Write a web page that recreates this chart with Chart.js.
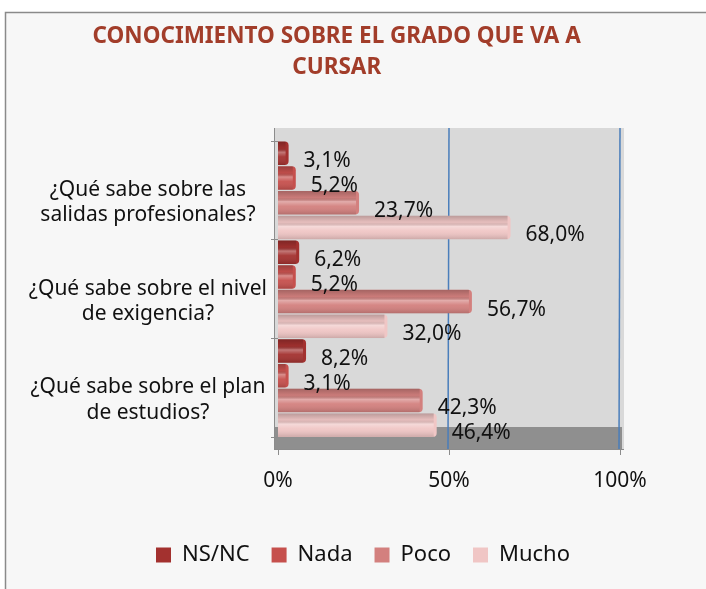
<!DOCTYPE html>
<html lang="es">
<head>
<meta charset="UTF-8">
<title>Conocimiento sobre el grado</title>
<script src="https://cdn.jsdelivr.net/npm/chart.js"></script>
<style>
    body { margin: 0; background: #ffffff; }
    #wrap { width: 706px; height: 589px; position: relative; }
</style>
</head>
<body>
<div id="wrap"><canvas id="chart"></canvas></div>
<script>
    // data
    const categories = [
        ['¿Qué sabe sobre las', 'salidas profesionales?'],
        ['¿Qué sabe sobre el nivel', 'de exigencia?'],
        ['¿Qué sabe sobre el plan', 'de estudios?']
    ];
    const seriesNames = ['NS/NC', 'Nada', 'Poco', 'Mucho'];
    const nsnc  = [3.1, 6.2, 8.2];
    const nada  = [5.2, 5.2, 3.1];
    const poco  = [23.7, 56.7, 42.3];
    const mucho = [68.0, 32.0, 46.4];
    const xTicks = [0, 50, 100];

    const colors = ['#a3312f', '#c6504d', '#d3807e', '#f0c6c5'];
    const FONT = "'Noto Sans', sans-serif";
    // trailing gap nudges the centred title a little left of the legend centre
    const titlePad = '         ';

    const fmt = v => v.toFixed(1).replace('.', ',') + '%';

    // frame, back wall, floor and wall gridlines
    const backdrop = {
        id: 'backdrop',
        beforeDraw(chart) {
            const c = chart.ctx, x = chart.scales.x, a = chart.chartArea;
            c.save();
            c.fillStyle = '#ffffff';
            c.fillRect(0, 0, chart.width, chart.height);
            c.fillStyle = '#f7f7f7';
            c.fillRect(5, 12, chart.width, chart.height);
            c.strokeStyle = '#8a8a8a';
            c.lineWidth = 1.5;
            c.beginPath();
            c.moveTo(5.5, chart.height); c.lineTo(5.5, 12.5); c.lineTo(chart.width, 12.5);
            c.stroke();

            const left = x.getPixelForValue(0) - 4;
            const right = x.getPixelForValue(100) + 4;
            const top = 128, bottom = 449;
            c.fillStyle = '#d9d9d9';
            c.fillRect(left, top, right - left, bottom - top);
            c.fillStyle = '#8f8f8f';
            c.fillRect(left, bottom - 22, right - left - 2, 22);

            c.strokeStyle = '#4a7ebb';
            c.lineWidth = 1.5;
            xTicks.slice(1).forEach(v => {
                const px = x.getPixelForValue(v);
                c.beginPath(); c.moveTo(px, top); c.lineTo(px - 1, bottom); c.stroke();
            });
            c.strokeStyle = '#8c8c8c';
            c.lineWidth = 1;
            c.beginPath(); c.moveTo(left + 0.5, top); c.lineTo(left + 0.5, bottom); c.stroke();
            c.beginPath(); c.moveTo(left, bottom + 0.5); c.lineTo(right, bottom + 0.5); c.stroke();
            xTicks.forEach(v => {
                const px = Math.round(x.getPixelForValue(v)) + 0.5;
                c.beginPath(); c.moveTo(px, bottom); c.lineTo(px, bottom + 6); c.stroke();
            });
            c.restore();
        }
    };

    // cylinder shading and value labels
    const barLabels = {
        id: 'barLabels',
        afterDatasetsDraw(chart) {
            const c = chart.ctx;
            c.save();
            chart.data.datasets.forEach((ds, i) => {
                chart.getDatasetMeta(i).data.forEach((bar, j) => {
                    const p = bar.getProps(['x', 'y', 'base', 'height'], true);
                    const l = Math.min(p.base, p.x), w = Math.abs(p.x - p.base) - 3;
                    const t = p.y - p.height / 2;
                    if (w > 0) {
                        const g = c.createLinearGradient(0, t, 0, t + p.height);
                        g.addColorStop(0, 'rgba(0,0,0,0.22)');
                        g.addColorStop(0.28, 'rgba(0,0,0,0.04)');
                        g.addColorStop(0.45, 'rgba(255,255,255,0.35)');
                        g.addColorStop(0.65, 'rgba(255,255,255,0.05)');
                        g.addColorStop(1, 'rgba(0,0,0,0.15)');
                        c.fillStyle = g;
                        c.fillRect(l, t, w, p.height);
                    }
                    c.fillStyle = '#111111';
                    c.font = '21px ' + FONT;
                    c.textAlign = 'left';
                    c.textBaseline = 'middle';
                    c.fillText(fmt(ds.data[j]), p.x + 15, p.y + 8);
                });
            });
            c.restore();
        }
    };

    const seriesData = [nsnc, nada, poco, mucho];

    new Chart(document.getElementById('chart'), {
        type: 'bar',
        data: {
            labels: categories,
            datasets: seriesNames.map((name, i) => ({
                label: name,
                data: seriesData[i],
                backgroundColor: colors[i],
                borderRadius: 4,
                categoryPercentage: 1,
                barPercentage: 0.95
            }))
        },
        options: {
            indexAxis: 'y',
            responsive: true,
            maintainAspectRatio: false,
            animation: false,
            layout: { padding: { left: 20, right: 0, top: 0, bottom: 13 } },
            scales: {
                x: {
                    min: 0,
                    max: 100,
                    afterBuildTicks(s) { s.ticks = xTicks.map(v => ({ value: v })); },
                    afterFit(s) { s.height = 84.5; },
                    grid: { display: false },
                    border: { display: false },
                    ticks: {
                        padding: 23,
                        color: '#111111',
                        font: { family: FONT, size: 21 },
                        callback: v => v + '%'
                    }
                },
                y: {
                    afterFit(s) { s.width = 258; },
                    grid: { drawOnChartArea: false, tickLength: 7, color: '#8c8c8c' },
                    border: { display: false },
                    ticks: {
                        crossAlign: 'center',
                        padding: 4,
                        labelOffset: 12,
                        color: '#111111',
                        font: { family: FONT, size: 21 }
                    }
                },
                y2: {
                    type: 'category',
                    position: 'right',
                    afterFit(s) { s.width = 86; },
                    grid: { display: false },
                    border: { display: false },
                    ticks: { display: false }
                }
            },
            plugins: {
                title: {
                    display: true,
                    text: ['CONOCIMIENTO SOBRE EL GRADO QUE VA A' + titlePad, 'CURSAR' + titlePad],
                    color: '#a23d2a',
                    font: { family: FONT, size: 22.5, weight: 'bold', lineHeight: 31 / 22.5 },
                    padding: { top: 21.5, bottom: 57.5 }
                },
                legend: {
                    position: 'bottom',
                    labels: {
                        boxWidth: 15,
                        boxHeight: 15,
                        padding: 22,
                        color: '#111111',
                        font: { family: FONT, size: 22 }
                    }
                },
                tooltip: { enabled: false }
            }
        },
        plugins: [backdrop, barLabels]
    });
</script>
</body>
</html>
